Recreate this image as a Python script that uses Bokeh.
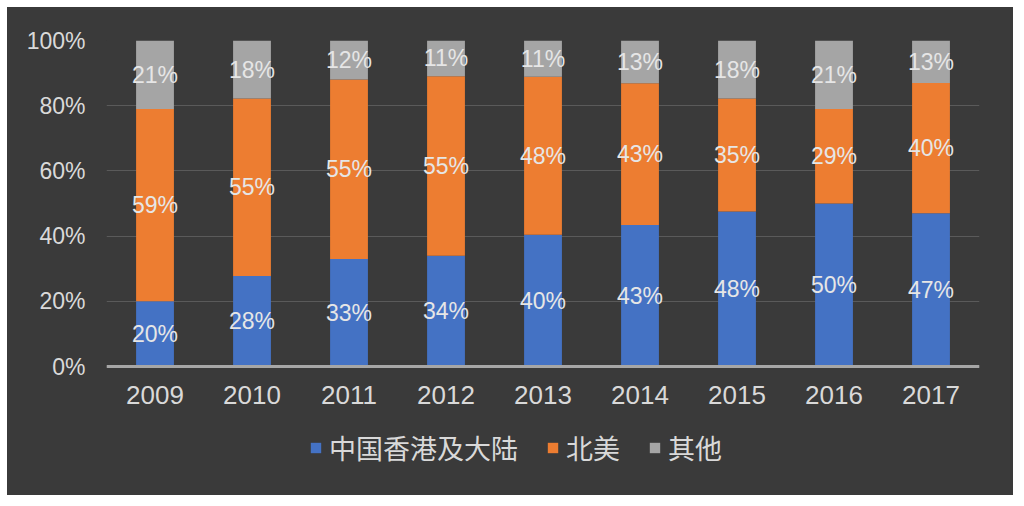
from bokeh.plotting import figure
from bokeh.models import (ColumnDataSource, Range1d, FactorRange, FixedTicker,
                          PrintfTickFormatter, Legend, LegendItem, Span)
from bokeh.core.properties import value
from bokeh.embed import file_html
from bokeh.resources import INLINE

years = ["2009", "2010", "2011", "2012", "2013", "2014", "2015", "2016", "2017"]
hk_mainland = [20, 28, 33, 34, 40, 43, 48, 50, 47]
north_america = [59, 55, 55, 55, 48, 43, 35, 29, 40]
other = [21, 18, 12, 11, 11, 13, 18, 21, 13]
series_names = ["中国香港及大陆", "北美", "其他"]
y_ticks = [0, 20, 40, 60, 80, 100]

colors = ["#4472c4", "#ed7d31", "#a5a5a5"]

# 100% stacked: normalise each year to its total
data = dict(year=years)
bottoms = [0.0] * len(years)
series = [hk_mainland, north_america, other]
for i, s in enumerate(series):
    tops = []
    for j, v in enumerate(s):
        total = hk_mainland[j] + north_america[j] + other[j]
        tops.append(bottoms[j] + v / total * 100.0)
    data[f"b{i}"] = list(bottoms)
    data[f"t{i}"] = tops
    data[f"m{i}"] = [(a + b) / 2 for a, b in zip(bottoms, tops)]
    data[f"l{i}"] = [f"{v}%" for v in s]
    bottoms = tops
data["zero"] = [0] * len(years)
src = ColumnDataSource(data)

# frame extends below the 0% line to hold category labels and legend
px_per_unit = 3.26
y_min = -129 / px_per_unit

p = figure(width=1006, height=488, x_range=FactorRange(*years, range_padding=0),
           y_range=Range1d(y_min, 100), output_backend="svg", toolbar_location=None,
           x_axis_location=None,
           min_border_left=99, min_border_right=34, min_border_top=33, min_border_bottom=0)
p.margin = (7, 0, 0, 7)
p.styles = {"background-color": "#3a3a3a"}
p.background_fill_color = "#3a3a3a"
p.border_fill_color = "#3a3a3a"
p.outline_line_color = None

renderers = []
for i in range(3):
    r = p.vbar(x="year", bottom=f"b{i}", top=f"t{i}", width=0.39, source=src,
               fill_color=colors[i], line_color=None)
    renderers.append(r)
for i in range(3):
    p.text(x="year", y=f"m{i}", text=f"l{i}", source=src, text_align="center",
           text_baseline="middle", text_font=value("Liberation Sans"),
           text_font_size="23px", text_color="#e6e6e6")

# category axis line and labels
p.add_layout(Span(location=0, dimension="width", line_color="#a6a6a6", line_width=3))
p.text(x="year", y="zero", text="year", source=src, y_offset=28, text_align="center",
       text_baseline="middle", text_font=value("Liberation Sans"),
       text_font_size="26px", text_color="#d9d9d9")

p.xgrid.visible = False
p.ygrid.grid_line_color = "#5a5a5a"
p.ygrid.grid_line_width = 1
p.yaxis.ticker = FixedTicker(ticks=y_ticks)
p.yaxis.formatter = PrintfTickFormatter(format="%d%%")
p.yaxis.axis_line_color = None
p.yaxis.major_tick_line_color = None
p.yaxis.minor_tick_line_color = None
p.yaxis.major_label_text_font = "Liberation Sans"
p.yaxis.major_label_text_font_size = "23px"
p.yaxis.major_label_text_color = "#d9d9d9"
p.yaxis.major_label_standoff = 15

legend = Legend(items=[LegendItem(label=series_names[i], renderers=[renderers[i]]) for i in range(3)],
                orientation="horizontal", location=(203, 28),
                glyph_width=13, glyph_height=13, label_standoff=7, spacing=28,
                label_text_font="Noto Sans CJK SC", label_text_font_size="27px",
                label_text_color="#d9d9d9", background_fill_alpha=0, border_line_alpha=0,
                padding=0, margin=0)
p.add_layout(legend, "center")

open("out.html", "w").write(file_html(p, INLINE))
